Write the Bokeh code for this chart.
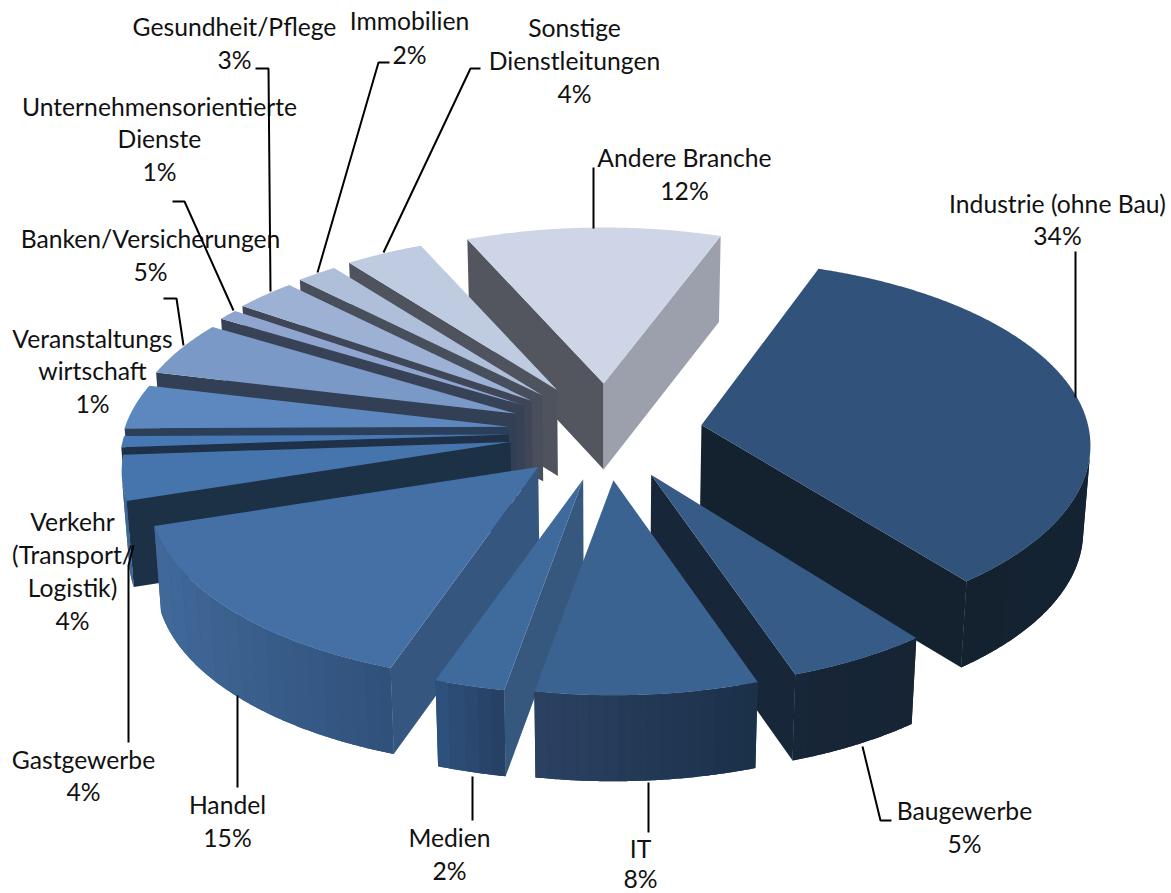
import math

from bokeh.core.properties import value
from bokeh.embed import file_html
from bokeh.models import ColumnDataSource, Range1d
from bokeh.plotting import figure
from bokeh.resources import INLINE

# Share of each branch in percent, clockwise from the first slice
branches = ["Industrie (ohne Bau)", "Baugewerbe", "IT", "Medien", "Handel", "Gastgewerbe",
            "Veranstaltungswirtschaft", "Verkehr (Transport/Logistik)", "Banken/Versicherungen",
            "Unternehmensorientierte Dienste", "Gesundheit/Pflege", "Immobilien",
            "Sonstige Dienstleitungen", "Andere Branche"]
shares = [34, 5, 8, 2, 15, 4, 1, 4, 5, 1, 3, 2, 4, 12]

# Slice colours: top face, rim left/right ends, first and last cut wall
top_colors = ["#31527A", "#365B87", "#3A6391", "#3F6A9C", "#4570A6", "#4675AE", "#4678B4",
              "#5C88BF", "#7A99C6", "#8FA5CF", "#9DB1D4", "#AFBFDA", "#BFCBE0", "#CDD5E6"]
rim_colors = [("#14222F", "#142333"), ("#172638", "#162434"), ("#2A4263", "#1B3049"),
              ("#2F5280", "#253F60"), ("#41699A", "#2F5079"), ("#3F6796", "#3F6796"),
              ("#41699A", "#41699A"), ("#4C74A5", "#4C74A5"), ("#6A86AE", "#6A86AE"),
              ("#7C90B4", "#7C90B4"), ("#8899B8", "#8899B8"), ("#98A6BE", "#98A6BE"),
              ("#A5B0C3", "#A5B0C3"), ("#B0B7C6", "#B0B7C6")]
start_wall = ["#15243A", "#172B40", "#1B3049", "#36587F", "#35577F", "#1C3046", "#1E3148",
              "#2B3E5A", "#323F55", "#384257", "#3E4658", "#474E5C", "#4E535E", "#53565E"]
end_wall = ["#14222F", "#172638", "#1B3049", "#36587F", "#35577F", "#1C3046", "#1E3148",
            "#2B3E5A", "#323F55", "#384257", "#3E4658", "#474E5C", "#4E535E", "#9BA0AC"]

# Pie geometry on the page
FIRST_ANGLE = 20.5
CENTER_X, CENTER_Y = 605.0, 431.5
EXPLODE_X, EXPLODE_Y = 97.0, 48.5
RADIUS_X, RADIUS_Y = 384.0, 180.8
TILT = 0.159
RIM_LIFT = 9.0
HEIGHT = 86.0
BASE_SHRINK = 0.985
BAND_WIDTH = 14.0

# Angular distortion of the projected rim: (angle, shift) in degrees, linear in between
RIM_WARP = [(0, 0), (20, 0), (142, 0), (161, 0.5), (190, 0.3), (197, 2.2), (251, 1),
            (300, 0), (323, -0.5), (337, -1.3), (360, 0)]

# Label layout: centre x, first line y, line step, text lines above the percentage
label_layout = [
    (1057, 204, 32, ["Industrie (ohne Bau)"]),
    (964, 811, 33, ["Baugewerbe"]),
    (640, 849.5, 29.5, ["IT"]),
    (449, 838, 33, ["Medien"]),
    (227, 805, 33, ["Handel"]),
    (83, 760, 32, ["Gastgewerbe"]),
    (92, 339, 32.5, ["Veranstaltungs", "wirtschaft"]),
    (72, 522, 33, ["Verkehr", "(Transport/", "Logistik)"]),
    (150, 239, 33, ["Banken/Versicherungen"]),
    (159, 107, 32.5, ["Unternehmensorientierte", "Dienste"]),
    (234, 27, 33, ["Gesundheit/Pflege"]),
    (409, 21, 34, ["Immobilien"]),
    (574, 28, 33, ["Sonstige", "Dienstleitungen"]),
    (684, 158, 33, ["Andere Branche"]),
]
LABEL_NUDGE = -1.5

# Leader lines from the labels to their slices
leaders = [
    ([1075, 1075], [251, 397]),
    ([891, 880, 862], [820, 820, 746]),
    ([648, 648], [832, 782]),
    ([472, 472], [820, 776]),
    ([237, 237], [787, 695]),
    ([128, 128, 133], [742, 565, 545]),
    ([163, 176, 183], [298, 298, 345]),
    ([172, 184, 233], [201, 201, 310]),
    ([255, 268, 270], [68, 68, 291]),
    ([389, 378, 317], [62, 62, 272]),
    ([480, 470, 383], [68, 68, 252]),
    ([593, 593], [167, 228]),
]


def warped(angle):
    angle %= 360.0
    for (a0, d0), (a1, d1) in zip(RIM_WARP[:-1], RIM_WARP[1:]):
        if a0 <= angle <= a1:
            return angle + d0 + (d1 - d0) * (angle - a0) / (a1 - a0)
    return angle


def rim_point(apex, angle, lift):
    """Project a rim point of a unit circle around a slice apex (clockwise degrees from the top)."""
    a = math.radians(warped(angle))
    x, y = math.sin(a), -math.cos(a)
    w = 1.0 / (1.0 - TILT * y)
    return apex[0] + RADIUS_X * x * w, apex[1] + RADIUS_Y * y * w - lift


def lowered(pt):
    """Bottom counterpart of a top-face point."""
    return CENTER_X + (pt[0] - CENTER_X) * BASE_SHRINK, pt[1] + HEIGHT


def faces_viewer(a, b):
    quad = [a, b, lowered(b), lowered(a)]
    area = sum(quad[i][0] * quad[(i + 1) % 4][1] - quad[(i + 1) % 4][0] * quad[i][1] for i in range(4))
    return area < 0


def mix(c1, c2, t):
    p = [int(c1[i:i + 2], 16) for i in (1, 3, 5)]
    q = [int(c2[i:i + 2], 16) for i in (1, 3, 5)]
    return "#%02x%02x%02x" % tuple(round(u + (v - u) * t) for u, v in zip(p, q))


slices = []
angle = FIRST_ANGLE
total = sum(shares)
for i, share in enumerate(shares):
    sweep = 360.0 * share / total
    mid = math.radians(angle + sweep / 2)
    apex = (CENTER_X + EXPLODE_X * math.sin(mid), CENTER_Y - EXPLODE_Y * math.cos(mid))
    lift = RIM_LIFT * max(0.0, math.sin(mid)) ** 2
    slices.append((apex[1], i, apex, angle, sweep, lift))
    angle += sweep

xs, ys, colors = [], [], []


def add_face(points, color):
    xs.append([pt[0] for pt in points])
    ys.append([pt[1] for pt in points])
    colors.append(color)


def add_rim_wall(rim, left_color, right_color):
    """Outer wall: a solid backing polygon with vertical colour bands on top of it."""
    visible = [(a, b) for a, b in zip(rim[:-1], rim[1:]) if faces_viewer(a, b)]
    if not visible:
        return
    whole = [visible[0][0]] + [s[1] for s in visible]
    add_face(whole + [lowered(pt) for pt in reversed(whole)], mix(left_color, right_color, 0.5))
    min_x = min(min(a[0], b[0]) for a, b in visible)
    max_x = max(max(a[0], b[0]) for a, b in visible)
    bands = {}
    for a, b in visible:
        band = int(((a[0] + b[0]) / 2 - min_x) // BAND_WIDTH)
        bands.setdefault(band, []).append((a, b))
    for band, segments in sorted(bands.items()):
        upper = [segments[0][0]] + [s[1] for s in segments]
        t = ((band + 0.5) * BAND_WIDTH) / max(max_x - min_x, 1.0)
        add_face(upper + [lowered(pt) for pt in reversed(upper)], mix(left_color, right_color, min(t, 1.0)))


# Far slices first, so that nearer ones cover them
for _, i, apex, start, sweep, lift in sorted(slices):
    steps = max(6, int(sweep * 3))
    rim = [rim_point(apex, start + sweep * k / steps, lift) for k in range(steps + 1)]
    if faces_viewer(apex, rim[0]):
        add_face([apex, rim[0], lowered(rim[0]), lowered(apex)], start_wall[i])
    if faces_viewer(rim[-1], apex):
        add_face([rim[-1], apex, lowered(apex), lowered(rim[-1])], end_wall[i])
    add_rim_wall(rim, rim_colors[i][0], rim_colors[i][1])
    add_face([apex] + rim, top_colors[i])

p = figure(width=1171, height=893, output_backend="svg", toolbar_location=None,
           x_range=Range1d(0, 1171), y_range=Range1d(893, 0),
           x_axis_location=None, y_axis_location=None, min_border=0,
           background_fill_color="white", border_fill_color="white", outline_line_color=None)
p.grid.visible = False

p.patches("xs", "ys", source=ColumnDataSource(dict(xs=xs, ys=ys, color=colors)),
          fill_color="color", line_color=None)

label_x, label_y, label_text = [], [], []
for (cx, y0, step, lines), share in zip(label_layout, shares):
    for k, line in enumerate(lines + [f"{share}%"]):
        label_x.append(cx)
        label_y.append(y0 + k * step + LABEL_NUDGE)
        label_text.append(line)

p.text("x", "y", text="text", source=ColumnDataSource(dict(x=label_x, y=label_y, text=label_text)),
       text_font=value("Lato"), text_font_size="24.7px", text_color="#111111",
       text_align="center", text_baseline="middle")

p.multi_line([l[0] for l in leaders], [l[1] for l in leaders], line_color="#000000", line_width=2)

open("out.html", "w").write(file_html(p, INLINE))
